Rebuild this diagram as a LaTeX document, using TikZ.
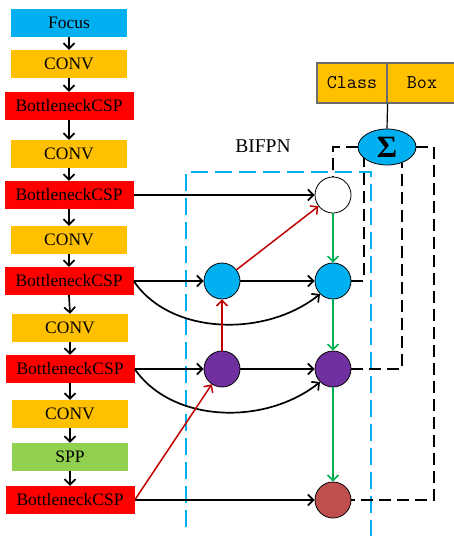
\documentclass[tikz,border=0pt]{standalone}
\usepackage{fontspec}
\setmainfont{Liberation Serif}
\usetikzlibrary{arrows.meta,shapes.geometric}
\definecolor{cfocus}{HTML}{00B0F0}
\definecolor{cconv}{HTML}{FFC000}
\definecolor{cbcsp}{HTML}{FF0000}
\definecolor{cspp}{HTML}{92D050}
\definecolor{cpurple}{HTML}{7030A0}
\definecolor{cbrown}{HTML}{C0504D}
\definecolor{cdred}{HTML}{C00000}
\definecolor{cgreen}{HTML}{00B050}
\definecolor{cborder}{HTML}{6B6B6B}
\begin{document}
\begin{tikzpicture}[x=1pt,y=-1pt,
  blk/.style={minimum height=28pt, inner sep=0pt, font=\fontsize{17.5}{20}\selectfont},
  focusbox/.style={blk, fill=cfocus, minimum width=116pt},
  convbox/.style={blk, fill=cconv, minimum width=116pt},
  sppbox/.style={blk, fill=cspp, minimum width=116pt},
  bcspbox/.style={blk, fill=cbcsp, minimum width=129pt},
  arr/.style={-{Straight Barb[length=5.5pt,width=11pt]}, line width=1.7pt},
  redarr/.style={arr, draw=cdred, line width=1.5pt},
  greenarr/.style={arr, draw=cgreen, line width=1.5pt},
  circ/.style={circle, draw, minimum size=36pt, inner sep=0pt, line width=0.8pt},
  blackdash/.style={line width=1.5pt, dash pattern=on 12pt off 6pt},
  bluedash/.style={draw=cfocus, line width=2pt, dash pattern=on 17pt off 7pt},
  headbox/.style={draw=cborder, line width=1.2pt, fill=cconv, minimum width=70pt, minimum height=40pt, inner sep=0pt, font=\fontsize{19.5}{20}\ttfamily},
]
\useasboundingbox (0,0) rectangle (454,536);
\clip (0,0) rectangle (454,536);

% left column
\node[focusbox] (b1) at (69,23) {Focus};
\node[convbox] (b2) at (69,64) {CONV};
\node[bcspbox] (b3) at (69,106) {BottleneckCSP};
\node[convbox] (b4) at (69,154) {CONV};
\node[bcspbox] (b5) at (69,195) {BottleneckCSP};
\node[convbox] (b6) at (69,240) {CONV};
\node[bcspbox] (b7) at (69,281) {BottleneckCSP};
\node[convbox] (b8) at (70,328) {CONV};
\node[bcspbox] (b9) at (70,369) {BottleneckCSP};
\node[convbox] (b10) at (70,414) {CONV};
\node[sppbox] (b11) at (70,457) {SPP};
\node[bcspbox] (b12) at (70,500) {BottleneckCSP};
\foreach \a/\b in {b1/b2,b2/b3,b3/b4,b4/b5,b5/b6,b6/b7,b7/b8,b8/b9,b9/b10,b10/b11,b11/b12}
  \draw[arr] (\a.south) -- (\b.north);

% BIFPN region
\draw[bluedash] (186,527) -- (186,172) -- (371,172) -- (371,545);
\node[font=\fontsize{19.5}{20}\selectfont] (bifpn) at (263,146) {BIFPN};

% circles
\node[circ, fill=white] (w) at (333,195) {};
\node[circ, fill=cfocus] (bl1) at (222,281) {};
\node[circ, fill=cfocus] (bl2) at (333,281) {};
\node[circ, fill=cpurple] (p1) at (222,369) {};
\node[circ, fill=cpurple] (p2) at (333,369) {};
\node[circ, fill=cbrown] (br) at (333,500) {};

% head
\node[headbox] (cls) at (352,83) {Class};
\node[headbox] (box) at (422,83) {Box};
\node[ellipse, draw, line width=0.8pt, fill=cfocus, minimum width=58pt, minimum height=36pt, inner sep=0pt] (sig) at (387,147) {\fontsize{31}{31}\selectfont\bfseries Σ};
\draw[line width=1.2pt] (sig.north) -- (cls.south east);

% horizontal arrows
\draw[arr] (b5.east) -- (w);
\draw[arr] (b7.east) -- (bl1);
\draw[arr] (bl1) -- (bl2);
\draw[arr] (b9.east) -- (p1);
\draw[arr] (p1) -- (p2);
\draw[arr] (b12.east) -- (br);
% curved arrows
\draw[arr] (b7.east) .. controls (170,335) and (265,338) .. (bl2.225);
\draw[arr] (b9.east) .. controls (172,423) and (265,426) .. (p2.225);

% red arrows
\draw[redarr] (bl1) -- (w);
\draw[redarr] (p1) -- (bl1);
\draw[redarr] (b12.east) -- (p1);

% green arrows
\draw[greenarr] (w) -- (bl2);
\draw[greenarr] (bl2) -- (p2);
\draw[greenarr] (p2) -- (br);

% dashed connections to sigma
\draw[blackdash] (sig.west) -| (w.north);
\draw[blackdash] (bl2.east) -| (sig.206);
\draw[blackdash] (p2.east) -| (sig.314);
\coordinate (c4) at (434,500);
\draw[blackdash] (sig.east) -| (c4) -- (br.east);
\end{tikzpicture}
\end{document}
